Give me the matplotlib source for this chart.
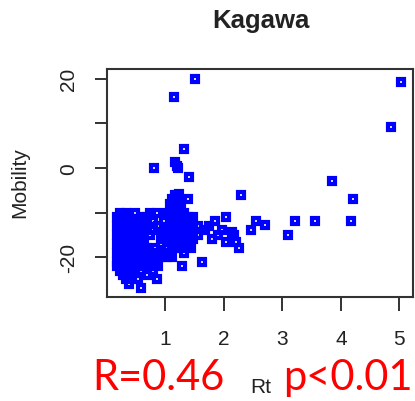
import matplotlib
matplotlib.use("Agg")
import matplotlib.pyplot as plt

# Rt vs mobility, Kagawa
rt = [
    1.51, 1.15, 1.31, 0.81, 1.17, 1.20, 1.22, 1.41, 1.24, 1.38, 1.12, 0.86, 0.59, 0.86, 1.29, 1.62, 0.69,
    5.03, 4.86, 3.84, 4.21, 4.18, 3.56, 3.22, 3.10, 2.71, 2.54, 2.47, 2.30, 2.03, 1.84, 2.25, 2.21, 2.03,
    2.14, 1.97, 1.67, 1.80, 2.17, 1.90, 1.75,
    0.17, 0.17, 0.17, 0.17, 0.17, 0.17, 0.17,
    0.22, 0.22, 0.22, 0.22, 0.22, 0.22, 0.22,
    0.28, 0.28, 0.28, 0.28, 0.28, 0.28, 0.28,
    0.33, 0.33, 0.33, 0.33, 0.33, 0.33, 0.33, 0.33,
    0.38, 0.38, 0.38, 0.38, 0.38, 0.38, 0.38, 0.38,
    0.43, 0.43, 0.43, 0.43, 0.43, 0.43, 0.43,
    0.48, 0.48, 0.48, 0.48, 0.48, 0.48, 0.48,
    0.53, 0.53, 0.53, 0.53, 0.53, 0.53, 0.53,
    0.58, 0.58, 0.58, 0.58, 0.58, 0.58,
    0.63, 0.63, 0.63, 0.63, 0.63,
    0.68, 0.68, 0.68, 0.68,
    0.73, 0.73, 0.73, 0.73,
    0.78, 0.78, 0.78, 0.78,
    0.83, 0.83,
    0.88, 0.88, 0.88,
    0.93, 0.93, 0.93,
    0.98, 0.98, 0.98,
    1.03, 1.03, 1.03, 1.03,
    1.08, 1.08, 1.08, 1.08, 1.08,
    1.12, 1.12, 1.12, 1.12, 1.12,
    1.17, 1.17, 1.17, 1.17, 1.17,
    1.22, 1.22, 1.22, 1.22,
    1.27, 1.27, 1.27, 1.27,
    1.32, 1.32, 1.32, 1.32,
    1.38, 1.38, 1.38,
    1.43, 1.43, 1.43,
    1.48, 1.48, 1.48,
    1.55, 1.55,
]
mobility = [
    20, 16, 4.3, 0, 1.3, 0.5, 0, -2, -5.8, -7, -7, -10, -27, -25, -22, -21, -24,
    19.3, 9.2, -3, -7, -12, -12, -12, -15, -12.8, -12, -14, -6, -11, -12, -18, -16.6, -16.6,
    -14.4, -14, -14, -16, -15, -15, -13,
    -11, -13, -15, -17, -19, -21, -22,
    -10, -12, -14, -16, -18, -20, -23,
    -11, -13, -15, -17, -19, -21, -24,
    -10, -12, -14, -16, -18, -20, -22, -25,
    -11, -13, -15, -17, -19, -21, -23, -26,
    -12, -14, -16, -18, -20, -22, -24,
    -10, -13, -15, -17, -19, -21, -23,
    -12, -14, -16, -18, -20, -22, -25,
    -11, -13, -15, -19, -21, -23,
    -12, -14, -17, -20, -22,
    -11, -13, -18, -21,
    -10, -15, -19, -22,
    -12, -14, -20, -23,
    -18, -21,
    -13, -19, -22,
    -15, -17, -20,
    -12, -16, -19,
    -10, -14, -18, -20,
    -8, -11, -13, -16, -19,
    -9, -12, -15, -17, -20,
    -6, -10, -13, -16, -18,
    -8, -11, -14, -17,
    -9, -12, -15, -18,
    -10, -13, -16, -19,
    -11, -14, -17,
    -12, -15, -18,
    -11, -14, -16,
    -13, -15,
]

x_ticks = [1, 2, 3, 4, 5]
y_ticks = [-20, -10, 0, 10, 20]
y_ticklabels = ["-20", "", "0", "", "20"]

plt.rcParams['font.family'] = ['Liberation Sans', 'DejaVu Sans']

fig = plt.figure(figsize=(4.15, 4.02), dpi=100)
ax = fig.add_axes([0.258, 0.259, 0.737, 0.567])

ax.plot(rt, mobility, linestyle='none', marker='s', markersize=4.6,
        markerfacecolor='none', markeredgecolor='#0000ff', markeredgewidth=3.0)

ax.set_xlim(0.003, 5.23)
ax.set_ylim(-28.9, 22.2)
ax.set_xticks(x_ticks)
ax.set_xticklabels([str(t) for t in x_ticks])
ax.set_yticks(y_ticks)
ax.set_yticklabels(y_ticklabels, rotation=90, va='center')
ax.tick_params(axis='x', length=10, width=1.3, pad=13, labelsize=15, colors='#222222')
ax.tick_params(axis='y', length=8.6, width=1.3, pad=12, labelsize=15, colors='#222222')
for s in ax.spines.values():
    s.set_linewidth(1.5)
    s.set_color('#333333')

fig.text(261/415, 1 - 21/402, "Kagawa", ha='center', va='center',
         fontsize=18.5, fontweight='bold', color='#222222')
fig.text(20/415, 1 - 183/402, "Mobility", ha='center', va='center',
         rotation=90, fontsize=15, color='#222222')
fig.text(261/415, 1 - 388/402, "Rt", ha='center', va='center',
         fontsize=15, color='#222222')

fig.text(92/415, 1 - 390/402, "R=0.46", ha='left', va='baseline',
         fontsize=30, color='#ff0000', family=['Lato', 'DejaVu Sans'])
fig.text(413/415, 1 - 390/402, "p<0.01", ha='right', va='baseline',
         fontsize=30, color='#ff0000', family=['Lato', 'DejaVu Sans'])

fig.savefig("out.png", dpi=100)
